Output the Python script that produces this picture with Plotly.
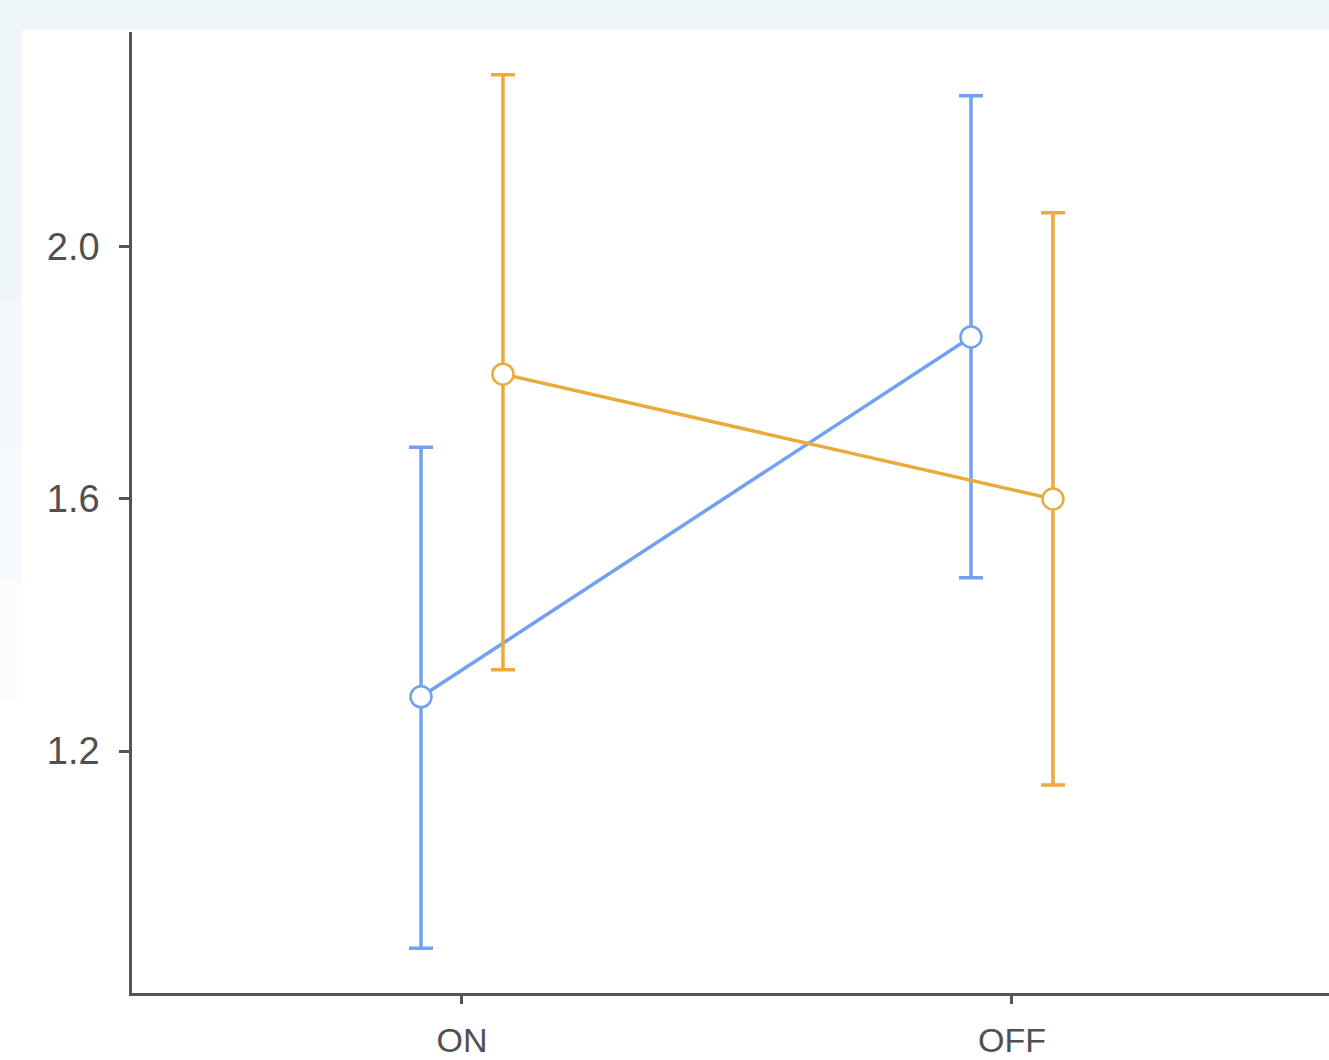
import plotly.graph_objects as go

categories = ["ON", "OFF"]
cat_pos = [0, 1]
dodge = 0.0745

blue_mean = [1.286, 1.857]
blue_upper = [1.682, 2.240]
blue_lower = [0.887, 1.475]

orange_mean = [1.798, 1.600]
orange_upper = [2.273, 2.054]
orange_lower = [1.329, 1.146]

ytick_vals = [1.2, 1.6, 2.0]
ytick_text = ["1.2", "1.6", "2.0"]

BLUE = "#72a1f0"
ORANGE = "#e8ab3c"

fig = go.Figure()

def add_series(mean, upper, lower, offset, color):
    xs = [p + offset for p in cat_pos]
    fig.add_trace(go.Scatter(
        x=xs, y=mean, mode="lines+markers",
        line=dict(color=color, width=3.5),
        marker=dict(size=21, color="white", line=dict(color=color, width=2.5)),
        error_y=dict(type="data", symmetric=False,
                     array=[u - m for u, m in zip(upper, mean)],
                     arrayminus=[m - l for m, l in zip(mean, lower)],
                     color=color, thickness=3.5, width=12),
        showlegend=False, hoverinfo="skip",
    ))

add_series(blue_mean, blue_upper, blue_lower, -dodge, BLUE)
add_series(orange_mean, orange_upper, orange_lower, dodge, ORANGE)

W, H = 1329, 1060
ml, mr, mt, mb = 132, 0, 32, 67
pw, ph = W - ml - mr, H - mt - mb

def px_x(p):
    return (p - ml) / pw

def px_y(p):
    return (H - mb - p) / ph

shapes = [
    dict(type="rect", xref="paper", yref="paper", x0=px_x(0), x1=px_x(W), y0=px_y(30), y1=px_y(0),
         fillcolor="#eef6f9", line=dict(width=0), layer="below"),
]
# left fading band
for y_top, y_bot, op in [(30, 300, 1.0), (300, 450, 0.75), (450, 580, 0.5), (580, 700, 0.25)]:
    shapes.append(dict(type="rect", xref="paper", yref="paper", x0=px_x(0), x1=px_x(22),
                       y0=px_y(y_bot), y1=px_y(y_top), fillcolor="#eef6f9", opacity=op,
                       line=dict(width=0), layer="below"))

fig.update_layout(
    width=W, height=H,
    margin=dict(l=ml, r=mr, t=mt, b=mb),
    paper_bgcolor="white", plot_bgcolor="white",
    font=dict(family="Liberation Sans, Arial, sans-serif", color="#505050", size=34),
    shapes=shapes,
    xaxis=dict(range=[-0.6, 1.5764], tickvals=cat_pos, ticktext=categories,
               showgrid=False, zeroline=False, showline=True, linecolor="#555555", linewidth=2.5,
               ticks="outside", ticklen=8, tickwidth=2.5, tickcolor="#555555",
               ticklabelstandoff=7,
               tickfont=dict(size=34, color="#505050")),
    yaxis=dict(range=[0.816, 2.341], tickvals=ytick_vals, ticktext=ytick_text,
               showgrid=False, zeroline=False, showline=True, linecolor="#555555", linewidth=2.5,
               ticks="outside", ticklen=10, tickwidth=2.5, tickcolor="#555555",
               ticklabelstandoff=12,
               tickfont=dict(size=38, color="#505050")),
)

fig.write_html("out.html", config={"displayModeBar": False},
               post_script="document.body.style.margin='0px';document.body.style.padding='0px';")
